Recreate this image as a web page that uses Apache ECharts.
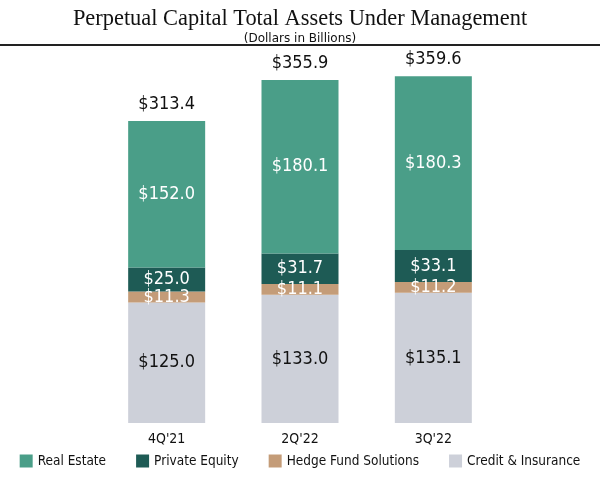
<!DOCTYPE html>
<html><head><meta charset="utf-8">
<script src="https://cdn.jsdelivr.net/npm/echarts@6/dist/echarts.min.js"></script>
<style>html,body{margin:0;padding:0;background:#fff}#c{width:600px;height:483px}</style>
</head><body><div id="c"></div>
<script>
const categories = ["4Q'21", "2Q'22", "3Q'22"];
const creditInsurance = [125.0, 133.0, 135.1];
const hedgeFund = [11.3, 11.1, 11.2];
const privateEquity = [25.0, 31.7, 33.1];
const realEstate = [152.0, 180.1, 180.3];
const totals = [313.4, 355.9, 359.6];

const FONT = '"DejaVu Sans Condensed", "DejaVu Sans", sans-serif';
const chart = echarts.init(document.getElementById('c'));
const lbl = (color) => ({
  show: true, position: 'inside', color: color, fontFamily: FONT, fontSize: 18,
  formatter: p => '$' + p.value.toFixed(1)
});
chart.setOption({
  animation: false,
  title: [
    {text: 'Perpetual Capital Total Assets Under Management', left: 'center', top: 3,
     textStyle: {fontFamily: 'Liberation Serif', fontSize: 22.4, fontWeight: 'normal', color: '#111'}},
    {text: '(Dollars in Billions)', left: 'center', top: 28,
     textStyle: {fontFamily: 'DejaVu Sans', fontSize: 12, fontWeight: 'normal', color: '#111'}}
  ],
  graphic: [{type: 'line', shape: {x1: 0, y1: 45, x2: 600, y2: 45}, style: {stroke: '#222', lineWidth: 2}}],
  legend: {
    bottom: 10, left: 'center', itemWidth: 13, itemHeight: 13, itemGap: 30, icon: 'rect',
    data: ['Real Estate', 'Private Equity', 'Hedge Fund Solutions', 'Credit & Insurance'],
    textStyle: {fontFamily: FONT, fontSize: 13.5, color: '#111'}
  },
  grid: {left: 100, right: 100, top: 37.4, bottom: 60},
  xAxis: {type: 'category', data: categories,
    axisLine: {show: false}, axisTick: {show: false},
    axisLabel: {fontFamily: FONT, fontSize: 14, color: '#111', margin: 9}},
  yAxis: {type: 'value', min: 0, max: 400, show: false, splitLine: {show: false}},
  series: [
    {name: 'Credit & Insurance', type: 'bar', stack: 'a', data: creditInsurance, barWidth: 77,
     itemStyle: {color: '#CDD0D9'}, label: lbl('#111')},
    {name: 'Hedge Fund Solutions', type: 'bar', stack: 'a', data: hedgeFund,
     itemStyle: {color: '#C49C78'}, label: lbl('#fff')},
    {name: 'Private Equity', type: 'bar', stack: 'a', data: privateEquity,
     itemStyle: {color: '#1E5B55'}, label: lbl('#fff')},
    {name: 'Real Estate', type: 'bar', stack: 'a', data: realEstate,
     itemStyle: {color: '#4A9E88'}, label: lbl('#fff')},
    {name: 'Total', type: 'scatter', data: totals, symbolSize: 0, silent: true,
     itemStyle: {opacity: 1},
     label: {show: true, position: 'top', distance: 8, color: '#111', fontFamily: FONT, fontSize: 18,
       formatter: p => '$' + p.value.toFixed(1)}}
  ]
});
</script></body></html>
